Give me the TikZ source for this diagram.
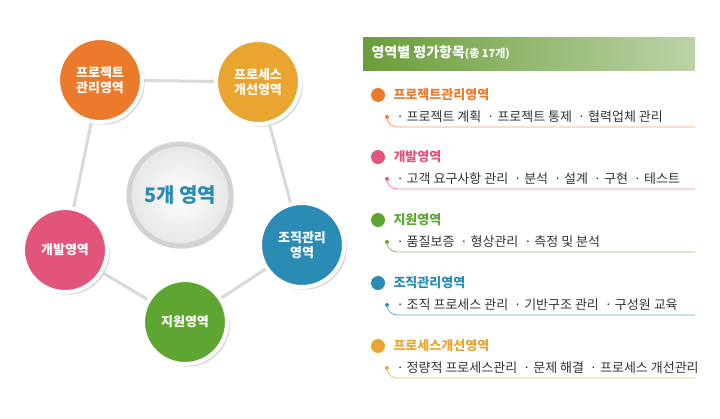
\documentclass[tikz,border=0pt]{standalone}
\usepackage{fontspec}
\setmainfont{Noto Sans CJK KR}
\usetikzlibrary{shadows}
\definecolor{cOr}{HTML}{EC7A2C}
\definecolor{cPk}{HTML}{E2557A}
\definecolor{cGr}{HTML}{5EA532}
\definecolor{cBl}{HTML}{2A8BB5}
\definecolor{cYe}{HTML}{E9A530}
\definecolor{cHd}{HTML}{6A9D3A}
\begin{document}
\begin{tikzpicture}[x=1pt,y=-1pt,
  area/.style={circle,minimum size=84pt,inner sep=1pt,draw=white,line width=4pt,text=white,font=\bfseries\fontsize{13}{15}\selectfont,align=center,drop shadow={opacity=0.3}},
  link/.style={draw=gray!30,line width=3pt},
  ttl/.style={anchor=west,font=\bfseries\fontsize{13}{15}\selectfont},
  sub/.style={anchor=west,font=\fontsize{13}{15}\selectfont,text=black!80}]
\useasboundingbox (0,0) rectangle (720,418);
\node[area,fill=cOr] (p) at (100,80) {프로젝트\\관리영역};
\node[area,fill=cYe] (s) at (258,82) {프로세스\\개선영역};
\node[area,fill=cBl] (o) at (302,245) {조직관리\\영역};
\node[area,fill=cGr] (g) at (185,322) {지원영역};
\node[area,fill=cPk] (d) at (65,250) {개발영역};
\draw[link] (p) -- (s); \draw[link] (s) -- (o); \draw[link] (o) -- (g); \draw[link] (g) -- (d); \draw[link] (d) -- (p);
\node[circle,minimum size=102pt,draw=gray!35,line width=5pt,inner color=white,outer color=gray!20,text=cBl,font=\bfseries\fontsize{20}{24}\selectfont,drop shadow={opacity=0.25}] (c) at (180,195) {5개 영역};
% panel
\shade[left color=cHd,right color=cHd!45] (363,37) rectangle (695,70);
\node[anchor=west,text=white,font=\bfseries\fontsize{14}{16}\selectfont] (h) at (368,53) {영역별 평가항목\fontsize{11}{13}\selectfont(총 17개)};
\foreach \y/\c/\t/\s [count=\i] in {95/cOr/프로젝트관리영역/{· 프로젝트 계획 \ · 프로젝트 통제 \ · 협력업체 관리},
  157/cPk/개발영역/{· 고객 요구사항 관리 \ · 분석 \ · 설계 \ · 구현 \ · 테스트},
  220/cGr/지원영역/{· 품질보증 \ · 형상관리 \ · 측정 및 분석},
  283/cBl/조직관리영역/{· 조직 프로세스 관리 \ · 기반구조 관리 \ · 구성원 교육},
  346/cYe/프로세스개선영역/{· 정량적 프로세스관리 \ · 문제 해결 \ · 프로세스 개선관리}}{
  \fill[\c] (378,\y) circle (7pt);
  \node[ttl,text=\c] (t\i) at (390,\y) {\t};
  \node[sub] (s\i) at (393,\y+22) {\s};
  \fill[\c] (387,\y+22) circle (2pt);
  \draw[\c!70,line width=0.8pt] (387,\y+22) to[out=-90,in=180] (397,\y+32) -- (695,\y+32);
}
\end{tikzpicture}
\end{document}
